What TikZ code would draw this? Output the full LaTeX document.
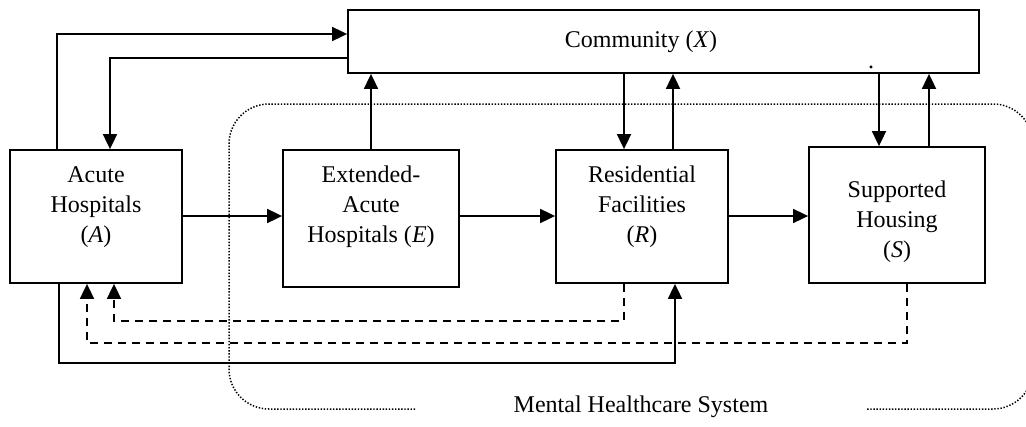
\documentclass[tikz,border=0pt]{standalone}
\usepackage{fontspec}
\setmainfont{Liberation Serif}
\usetikzlibrary{arrows.meta}

\tikzset{
  box/.style={draw, line width=1.8pt, rectangle, inner sep=0pt},
  lbl/.style={align=center, inner sep=0pt, font=\fontsize{24}{30}\selectfont},
  arr/.style={line width=1.8pt, -{Triangle[length=15pt,width=14pt]}},
  dasharr/.style={arr, dash pattern=on 8pt off 6pt},
  boundary/.style={line width=1.5pt, dash pattern=on 1.4pt off 1.7pt, rounded corners=40pt}
}

\begin{document}
\begin{tikzpicture}[x=1pt, y=-1pt]
  \useasboundingbox (0,0) rectangle (1026,426);
  \clip (0,0) rectangle (1026,426);

  % system boundary, open at the bottom for its caption
  \draw[boundary] (415,409) -- (229,409) -- (229,104) -- (1033,104) -- (1033,409) -- (866,409);
  \node[lbl] (mhs) at (641,407) {Mental Healthcare System};

  % stocks
  \node[box, minimum width=631pt, minimum height=63pt] (X) at (663.5,41.5) {};
  \node[box, minimum width=172pt, minimum height=133pt] (A) at (96,216.5) {};
  \node[box, minimum width=176pt, minimum height=137pt] (E) at (371,218.5) {};
  \node[box, minimum width=172pt, minimum height=133pt] (R) at (642,216.5) {};
  \node[box, minimum width=176pt, minimum height=136pt] (S) at (897,215) {};

  \node[lbl] (Xt) at (641,42) {Community (\textit{X})};
  \node[lbl] (dot) at (871,67) {.};
  \node[lbl] (At) at (96,207) {Acute\\Hospitals\\(\textit{A})};
  \node[lbl] (Et) at (371,207) {Extended-\\Acute\\Hospitals (\textit{E})};
  \node[lbl] (Rt) at (642,207) {Residential\\Facilities\\(\textit{R})};
  \node[lbl] (St) at (897,222) {Supported\\Housing\\(\textit{S})};

  % flows with the community
  \draw[arr] (A.north -| 57,0) |- (X.west |- 0,34);
  \draw[arr] (X.west |- 0,58) -| (A.north -| 110,0);
  \draw[arr] (E.north) -- (X.south -| E.north);
  \draw[arr] (X.south -| 624,0) -- (R.north -| 624,0);
  \draw[arr] (R.north -| 673,0) -- (X.south -| 673,0);
  \draw[arr] (X.south -| 879,0) -- (S.north -| 879,0);
  \draw[arr] (S.north -| 929,0) -- (X.south -| 929,0);

  % forward flows
  \draw[arr] (A.east |- 0,216) -- (E.west |- 0,216);
  \draw[arr] (E.east |- 0,216) -- (R.west |- 0,216);
  \draw[arr] (R.east |- 0,216) -- (S.west |- 0,216);

  % returns and direct transfers
  \draw[arr] (A.south -| 59,0) -- (59,363) -| (R.south -| 675,0);
  \draw[dasharr] (R.south -| 624,0) -- (624,321) -| (A.south -| 114,0);
  \draw[dasharr] (S.south -| 907,0) -- (907,343) -| (A.south -| 87,0);
\end{tikzpicture}
\end{document}
